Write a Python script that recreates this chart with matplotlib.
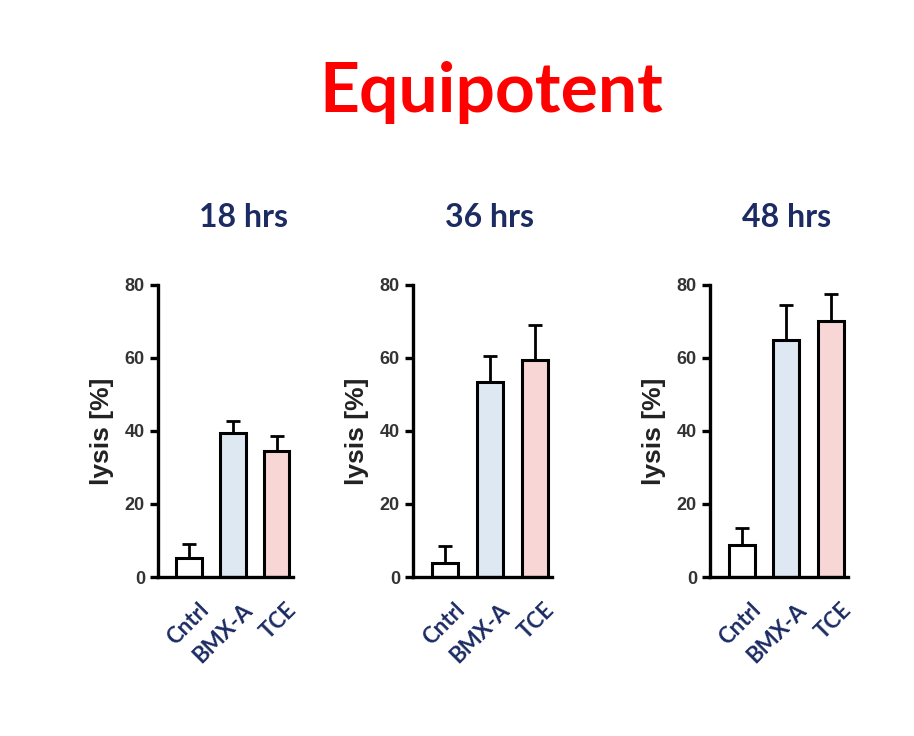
import numpy as np
import matplotlib.pyplot as plt

groups = ['Cntrl', 'BMX-A', 'TCE']
panels = ['18 hrs', '36 hrs', '48 hrs']
means = [
    [5.2, 39.5, 34.5],
    [3.8, 53.5, 59.5],
    [8.8, 64.8, 70.0],
]
tops = [
    [9.0, 42.7, 38.5],
    [8.5, 60.5, 69.0],
    [13.4, 74.5, 77.5],
]
fills = ['white', '#dde8f3', '#f9d6d6']

navy = '#1c2c62'
plt.rcParams['font.family'] = ['Lato', 'DejaVu Sans']
arial = ['Liberation Sans', 'DejaVu Sans']

fig = plt.figure(figsize=(9.14, 7.36), dpi=100)
fig.text(0.537, 0.875, 'Equipotent', color='#ff0000', fontsize=50,
         fontweight='bold', ha='center', va='center')

# axes boxes in figure fractions (left, width)
boxes = [(0.173, 0.148), (0.452, 0.152), (0.777, 0.151)]
title_x = [0.266, 0.536, 0.861]

for i in range(3):
    l, w = boxes[i]
    ax = fig.add_axes([l, 0.216, w, 0.397])
    x = np.arange(3)
    m = np.array(means[i])
    t = np.array(tops[i])
    ax.bar(x, m, width=0.58, color=fills, edgecolor='black', lw=2.2, zorder=2)
    ax.errorbar(x, m, yerr=[np.zeros(3), t - m], fmt='none', ecolor='black',
                elinewidth=2, capsize=5, capthick=2, zorder=1)
    ax.set_xlim(-0.7, 2.38)
    ax.set_ylim(0, 80)
    ax.set_yticks([0, 20, 40, 60, 80])
    ax.spines[['top', 'right']].set_visible(False)
    ax.spines[['left', 'bottom']].set_linewidth(2.4)
    ax.tick_params(axis='y', width=2.4, length=6, labelsize=13, labelcolor='#333333')
    for lab in ax.get_yticklabels():
        lab.set_fontweight('bold')
        lab.set_family(arial)
    ax.tick_params(axis='x', length=0, pad=16)
    ax.set_xticks(x + 0.2)
    ax.set_xticklabels(groups, rotation=45, ha='right', rotation_mode='anchor',
                       fontsize=16, fontweight='bold', color=navy)
    ax.set_ylabel('lysis [%]', fontsize=19, fontweight='bold', family=arial,
                  color='#222222', labelpad=8)
    fig.text(title_x[i], 0.704, panels[i], fontsize=23, fontweight='bold',
             color=navy, ha='center', va='center')

fig.savefig('out.png', dpi=100)
